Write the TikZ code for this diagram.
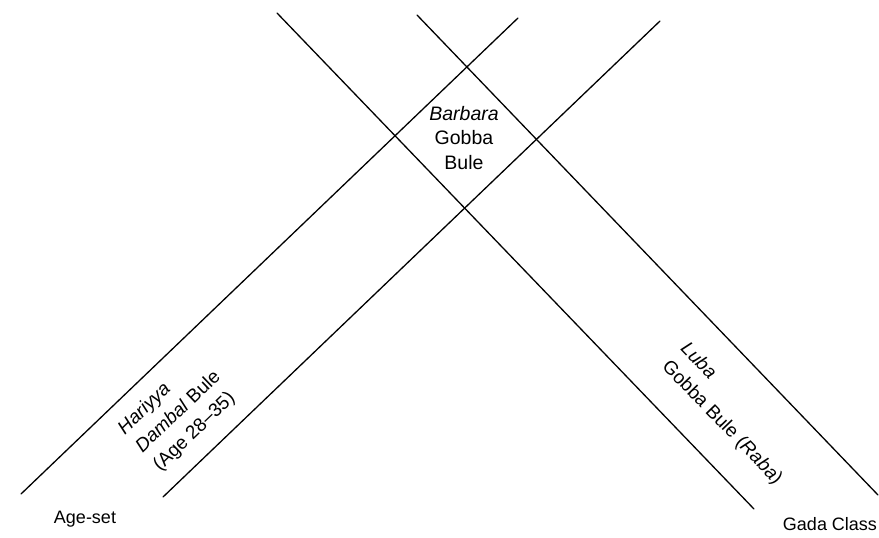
\documentclass[tikz,border=0pt]{standalone}
\usepackage{fontspec}
\setmainfont{Liberation Sans}
\begin{document}
\begin{tikzpicture}[x=1pt,y=-1pt,
  rule/.style={line width=1.3pt, line cap=round},
  lbl/.style={font=\fontsize{18}{24}\selectfont, inner sep=0pt},
  midlbl/.style={font=\fontsize{19.5}{24.5}\selectfont, inner sep=0pt},
  slant/.style={font=\fontsize{19}{25.5}\selectfont, inner sep=0pt}]
\useasboundingbox (0,0) rectangle (879,538);
% connector end points
\coordinate (a1) at (21,494);  \coordinate (a2) at (518,18);
\coordinate (b1) at (163,497); \coordinate (b2) at (660,21);
\coordinate (c1) at (277,13);  \coordinate (c2) at (754,509);
\coordinate (d1) at (417,15);  \coordinate (d2) at (878,495);
\draw[rule] (a1) -- (a2);
\draw[rule] (b1) -- (b2);
\draw[rule] (c1) -- (c2);
\draw[rule] (d1) -- (d2);
% labels
\node[midlbl, align=center] (barbara) at (464,138) {\textit{Barbara}\\Gobba\\Bule};
\node[slant, align=left, rotate=43.8, anchor=west] (hariyya) at (139,450)
  {\textit{Hariyya}\\\textit{Dambal} Bule\\(Age 28--35)};
\node[slant, align=left, rotate=-46, anchor=west] (luba) at (674,355)
  {\textit{Luba}\\Gobba Bule (\textit{Raba})};
\node[lbl] (ageset) at (85,519) {Age-set};
\node[lbl] (gada) at (830,524) {Gada Class};
\end{tikzpicture}
\end{document}
